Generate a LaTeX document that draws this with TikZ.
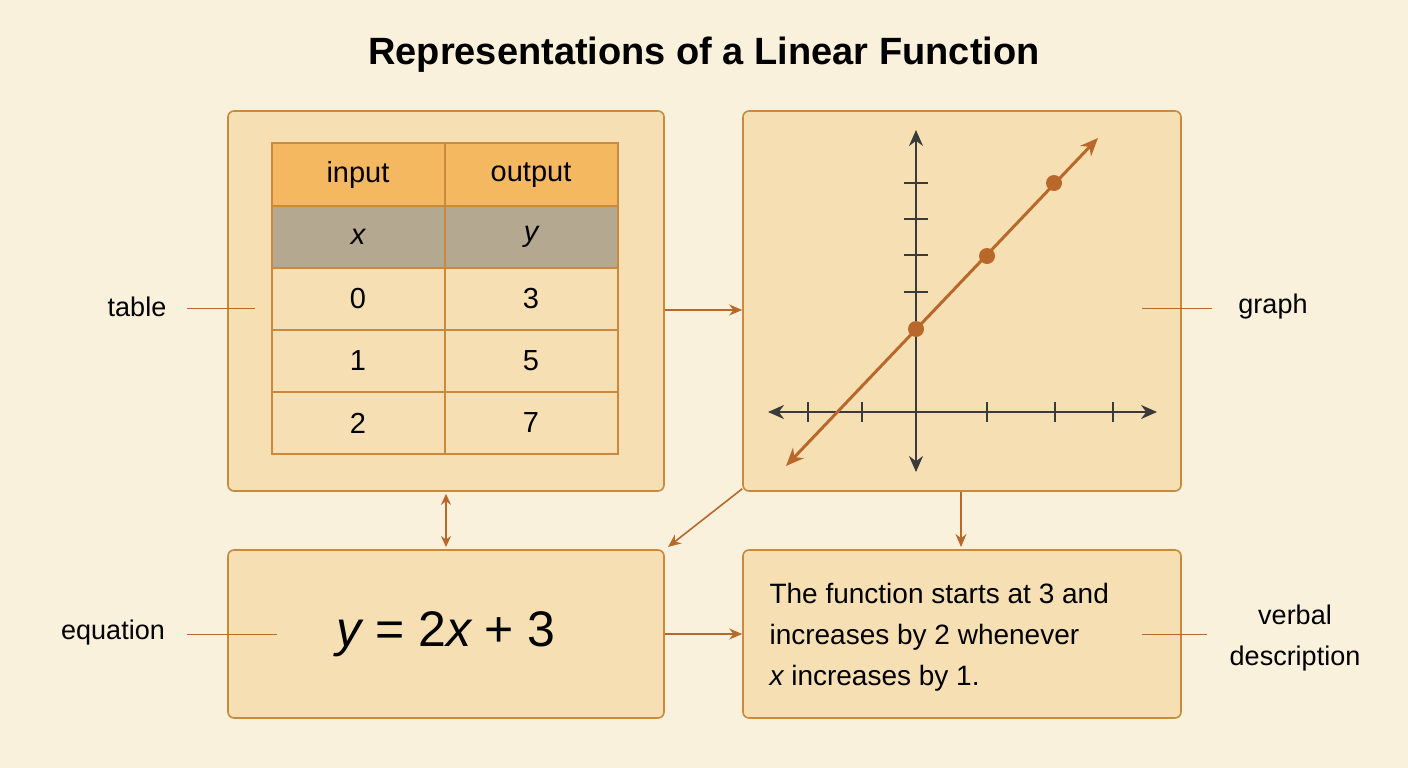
\documentclass[tikz,border=0pt]{standalone}
\usepackage{fontspec}
\setmainfont{Liberation Sans}
\usetikzlibrary{arrows.meta}
\definecolor{bg}{HTML}{FAF1DC}
\definecolor{boxf}{HTML}{F6E0B3}
\definecolor{boxd}{HTML}{C98A3E}
\definecolor{head}{HTML}{F4B860}
\definecolor{grayrow}{HTML}{B5A891}
\definecolor{arr}{HTML}{B8682A}
\definecolor{ax}{HTML}{3A3A3A}
\begin{document}
\begin{tikzpicture}[x=1pt,y=-1pt,
  box/.style={draw=boxd,fill=boxf,line width=1.6pt,rounded corners=6pt},
  cell/.style={draw=boxd,line width=1.4pt},
  conn/.style={draw=arr,line width=1.6pt,-{Stealth[length=13pt,width=11pt]}},
  lead/.style={draw=arr,line width=1pt},
  lbl/.style={font=\fontsize{27}{32}\selectfont,text=black},
  ctxt/.style={font=\fontsize{29}{34}\selectfont}]
\fill[bg] (0,0) rectangle (1408,768);
\useasboundingbox (0,0) rectangle (1408,768);
\node[font=\bfseries\fontsize{38}{44}\selectfont] (title) at (704,55) {Representations of a Linear Function};
% boxes
\node[box,minimum width=436pt,minimum height=380pt] (tb) at (446,301) {};
\node[box,minimum width=438pt,minimum height=380pt] (gb) at (962,301) {};
\node[box,minimum width=436pt,minimum height=168pt] (eb) at (446,634) {};
\node[box,minimum width=438pt,minimum height=168pt] (vb) at (962,634) {};
% table
\fill[head] (272,143) rectangle (618,206);
\fill[grayrow] (272,206) rectangle (618,268);
\draw[cell] (272,143) rectangle (618,454);
\draw[cell] (445,143) -- (445,454);
\foreach \yy in {206,268,330,392} \draw[cell] (272,\yy) -- (618,\yy);
\node[ctxt] (c11) at (358,175) {input};
\node[ctxt] (c12) at (531,175) {output};
\node[ctxt] (c21) at (358,237) {\itshape x};
\node[ctxt] (c22) at (531,237) {\itshape y};
\node[ctxt] (c31) at (358,299) {0};
\node[ctxt] (c32) at (531,299) {3};
\node[ctxt] (c41) at (358,361) {1};
\node[ctxt] (c42) at (531,361) {5};
\node[ctxt] (c51) at (358,423) {2};
\node[ctxt] (c52) at (531,423) {7};
% graph
\coordinate (xl) at (768,412); \coordinate (xr) at (1157,412);
\coordinate (yt) at (916,130); \coordinate (yb) at (916,472);
\draw[ax,line width=2pt,{Stealth[length=16pt,width=14pt]}-{Stealth[length=16pt,width=14pt]}] (xl) -- (xr);
\draw[ax,line width=2pt,{Stealth[length=16pt,width=14pt]}-{Stealth[length=16pt,width=14pt]}] (yb) -- (yt);
\foreach \xx in {808,862,987,1055,1113} \draw[ax,line width=1.6pt] (\xx,402) -- (\xx,422);
\foreach \yy in {183,219,255,292} \draw[ax,line width=1.6pt] (904,\yy) -- (928,\yy);
\coordinate (la) at (786,466); \coordinate (lb) at (1098,138);
\draw[arr,line width=3pt,{Stealth[length=18pt,width=15pt]}-{Stealth[length=18pt,width=15pt]}] (la) -- (lb);
\foreach \p in {(916,329),(987,256),(1054,183)} \fill[arr] \p circle (8pt);
% equation
\node[font=\fontsize{50}{58}\selectfont] (eq) at (446,634) {\itshape y\upshape\ = 2\itshape x\upshape\ + 3};
% verbal
\node[font=\fontsize{28}{41}\selectfont,align=left,anchor=west] (vt) at (766,637) {The function starts at 3 and\\increases by 2 whenever\\\itshape x\upshape\ increases by 1.};
% side labels
\node[lbl] (ltab) at (137,307) {table};
\node[lbl] (lgr) at (1273,307) {graph};
\node[lbl] (leq) at (113,633) {equation};
\node[lbl,align=center,font=\fontsize{27}{41}\selectfont] (lvb) at (1295,638) {verbal\\description};
\draw[lead] (187,308) -- (255,308);
\draw[lead] (1142,308) -- (1212,308);
\draw[lead] (187,634) -- (277,634);
\draw[lead] (1142,634) -- (1207,634);
% connectors
\draw[conn] (tb.east|-0,310) -- (gb.west|-0,310);
\draw[draw=arr,line width=1.6pt,{Stealth[length=11pt,width=10pt]}-{Stealth[length=11pt,width=10pt]}] (tb.south-|446,0) ++(0,2) -- (446,547);
\draw[conn] (gb.south west) ++(0,-3) -- (668,547);
\draw[conn] (961,492) -- (961,547);
\draw[conn] (eb.east|-0,634) -- (vb.west|-0,634);
\end{tikzpicture}
\end{document}
